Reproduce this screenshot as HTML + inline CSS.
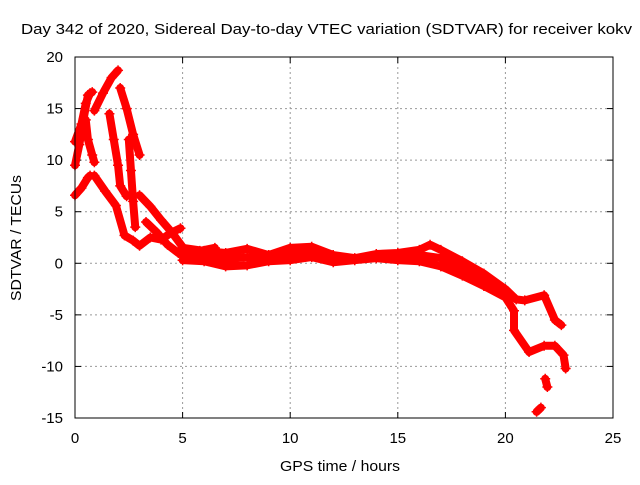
<!DOCTYPE html>
<html><head><meta charset="utf-8"><style>
body{margin:0;background:#fff}
svg text{font-family:"Liberation Sans",sans-serif;font-size:15px;fill:#000}
</style></head><body>
<svg id="c" width="640" height="480">
<text x="21" y="34" textLength="611" lengthAdjust="spacingAndGlyphs">Day 342 of 2020, Sidereal Day-to-day VTEC variation (SDTVAR) for receiver kokv</text>
<text x="280" y="471" textLength="120" lengthAdjust="spacingAndGlyphs">GPS time / hours</text>
<text transform="translate(21,301) rotate(-90)" textLength="126" lengthAdjust="spacingAndGlyphs">SDTVAR / TECUs</text>
<g id="grid"></g><g id="marks"></g>
<rect x="75" y="57" width="538" height="361" fill="none" stroke="#000"/>
</svg>
<script>
const xTicks=[0,5,10,15,20,25];
const yTicks=[-15,-10,-5,0,5,10,15,20];
const trackA=[[0,9.5],[0.2,11.5],[0.4,14],[0.6,16.3],[0.8,16.6]];
const trackA2=[[0,11.8],[0.3,13.5],[0.5,15.5],[0.7,16.5]];
const trackA3=[[0.5,13.9],[0.6,12],[0.8,10.5],[0.9,9.8]];
const trackA4=[[0,6.6],[0.3,7.3],[0.6,8.3],[0.7,8.5]];
const trackB=[[0.9,14.8],[1.3,16.5],[1.7,18],[2.0,18.7]];
const trackB2=[[2.1,17],[2.4,15],[2.7,12.5],[3.0,10.5]];
const trackB3=[[1.6,14.5],[1.8,12],[2.0,9.5],[2.1,7.5],[2.4,6.5]];
const trackB4=[[2.5,12],[2.6,9],[2.7,6],[2.8,3.5]];
const trackC=[[0.9,8.5],[1.4,7],[1.9,5.6],[2.3,2.7],[2.7,2.2],[3.0,1.7],[3.5,2.5],[4.0,2.3],[4.5,3.0],[4.9,3.4]];
const trackD=[[3.0,6.6],[3.5,5.5],[4.0,4.2],[4.5,3.0],[5.1,1.3],[5.8,1.2],[6.5,1.5]];
const trackD2=[[3.3,4],[3.8,3],[4.3,1.8],[4.8,1.0],[5.3,0.5]];
const upper=[[5,1.5],[6,1.2],[7,1.0],[8,1.4],[9,0.8],[10,1.5],[11,1.6],[12,0.8],[13,0.5],[14,0.9],[15,1.0],[16,1.3],[16.5,1.8],[17,1.3],[18,0.2],[19,-1],[20,-2.5],[20.5,-3.5],[20.9,-3.6],[21.8,-3.1],[22.3,-5.5],[22.6,-6.0]];
const middle=[[5,0.9],[6,0.7],[7,0.4],[8,0.6],[9,0.5],[10,0.9],[11,1.1],[12,0.4],[13,0.4],[14,0.7],[15,0.6],[16,0.8],[17,0.5],[18,-0.5],[19,-1.6],[20,-2.9]];
const lower=[[5,0.3],[6,0.2],[7,-0.3],[8,-0.2],[9,0.2],[10,0.3],[11,0.6],[12,0.1],[13,0.3],[14,0.5],[15,0.3],[16,0.2],[17,-0.3],[18,-1.2],[19,-2.2],[20,-3.3],[20.4,-4.6],[20.4,-6.5],[21.1,-8.6],[21.8,-8.0],[22.3,-8.0],[22.7,-8.9],[22.8,-10.2]];
const blob1=[[21.85,-11.2],[21.95,-12.0]];
const blob2=[[21.45,-14.4],[21.65,-14.0]];
const tracks=[trackA,trackA2,trackA3,trackA4,trackB,trackB2,trackB3,trackB4,trackC,trackD,trackD2,upper,middle,lower,blob1,blob2];
const X=h=>75+h*538/25, Y=v=>418-(v+15)*361/35;
const NS="http://www.w3.org/2000/svg",svg=document.getElementById('c');
const grid=document.getElementById('grid'),marks=document.getElementById('marks');
function mk(t,a,p){const e=document.createElementNS(NS,t);for(const k in a)e.setAttribute(k,a[k]);p.appendChild(e);return e;}
xTicks.forEach(t=>{const x=X(t);
 if(t>0&&t<25){const g=mk('line',{x1:x,x2:x,y1:57,y2:418,stroke:'#999','stroke-dasharray':'2,3'},grid);
 
 }
 mk('line',{x1:x,x2:x,y1:418,y2:412,stroke:'#000'},grid);mk('line',{x1:x,x2:x,y1:57,y2:63,stroke:'#000'},grid);
 const l=mk('text',{x:x,y:443,'text-anchor':'middle'},svg);l.textContent=t;
 
 });
yTicks.forEach(t=>{const y=Y(t);
 if(t>-15&&t<20){const g=mk('line',{x1:75,x2:613,y1:y,y2:y,stroke:'#999','stroke-dasharray':'2,3'},grid);
 
 }
 mk('line',{x1:75,x2:81,y1:y,y2:y,stroke:'#000'},grid);mk('line',{x1:613,x2:607,y1:y,y2:y,stroke:'#000'},grid);
 const l=mk('text',{x:63,y:y+5,'text-anchor':'end'},svg);l.textContent=t;
 
 });
tracks.forEach(tr=>{
 const p=mk('polyline',{points:tr.map(d=>X(d[0])+','+Y(d[1])).join(' '),fill:'none',stroke:'#f00','stroke-width':8,'stroke-linejoin':'round','stroke-linecap':'round'},marks);
 
 });
tracks.forEach(tr=>tr.forEach(d=>{
 const x=X(d[0]),y=Y(d[1]);
 const m=mk('path',{d:`M${x-5},${y}H${x+5}M${x},${y-5}V${y+5}`,stroke:'#f00','stroke-width':1.5},marks);
 
 }));
</script>
</body></html>
